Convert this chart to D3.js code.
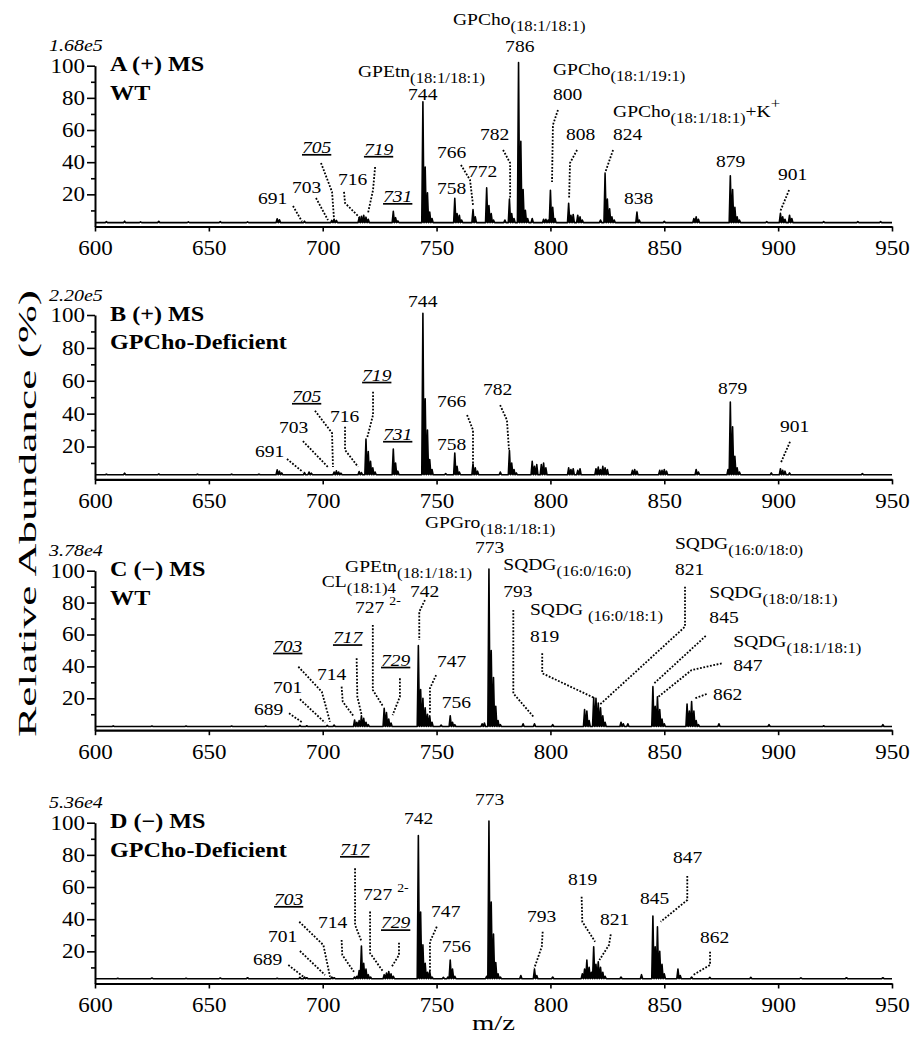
<!DOCTYPE html>
<html><head><meta charset="utf-8">
<script src="https://cdn.jsdelivr.net/npm/d3@7"></script>
<style>
body{margin:0;background:#fff}
svg text{font-family:"Liberation Serif","Times New Roman",serif;fill:#000}
</style></head><body>
<svg id="c" width="921" height="1050"></svg>
<script>
// ---------- data ----------
const mzTicks = [600, 650, 700, 750, 800, 850, 900, 950];
const pctMajor = [20, 40, 60, 80, 100];
const pctMinor = [10, 30, 50, 70, 90];
const panelTitle1 = ["A (+) MS", "B (+) MS", "C (\u2212) MS", "D (\u2212) MS"];
const panelTitle2 = ["WT", "GPCho-Deficient", "WT", "GPCho-Deficient"];
const scaleLabels = ["1.68e5", "2.20e5", "3.78e4", "5.36e4"];
const baselines = [2.4, 2.8, 2.3, 3.0];

const peaksA = [[605,3.0],[613,3.3],[620,2.9],[628,3.2],[641,2.9],[655,3.0],[667,2.9],[680,4.8],[681,4.2],[692,3.3],[704,3.8],[705,4.2],[706,3.8],[716,5.5],[717,6.3],[718,7.0],[719,5.8],[720,4.5],[731,9.5],[732,5.5],[733,3.5],[744,77.5],[745,37],[746,21],[747,9],[748,5],[758,17.5],[759,8],[760,7],[761,4],[766,10.5],[767,6],[772,24],[773,13],[774,8],[775,4],[780,4],[782,17],[783,8],[784,5],[786,102],[787,53],[788,23],[789,10],[790,5],[792,5],[797,4.5],[798,4.5],[799,4],[800,22.5],[801,12],[802,5],[808,14.5],[809,7],[810,7.5],[812,7],[813,6],[814,4],[822,4],[824,33],[825,17],[826,11],[827,6],[828,4],[838,9],[839,4],[850,3.2],[863,5],[864,6],[865,4.5],[879,31.5],[880,23],[881,12],[882,6],[883,4],[895,3],[901,8.2],[902,6],[903,4.5],[905,7],[906,5],[920,3],[935,3],[945,3]];
const peaksB = [[605,3.2],[613,3.8],[628,3.3],[645,3.2],[660,3.2],[672,3.2],[680,5.8],[681,5],[682,4],[692,4.2],[694,4.5],[695,3.8],[705,4.5],[706,5.2],[707,4.5],[708,3.8],[716,4.8],[717,4.2],[719,24.5],[720,17],[721,11],[722,7],[723,4.5],[731,18.5],[732,10],[733,5],[744,101],[745,49],[746,30],[747,12],[748,6],[754,3.5],[758,16],[759,8],[760,4.5],[766,9.5],[767,7],[768,5],[778,4.5],[782,17.5],[783,10],[784,6],[785,4],[792,11],[793,8],[794,9],[796,9],[797,10],[798,7],[808,7],[809,6],[810,6.5],[812,5.5],[813,6.5],[820,6.5],[821,7.5],[822,6],[823,8],[824,7],[825,6],[836,5.5],[837,6],[838,5],[848,5.5],[849,5.5],[850,6],[851,5],[864,6],[865,4.5],[878,6],[879,47],[880,32],[881,14],[882,7],[883,4.5],[897,4],[901,6.5],[902,5.5],[903,5],[905,4],[937,3.6]];
const peaksC = [[608,2.7],[625,2.6],[640,2.6],[660,2.6],[675,2.7],[690,3.0],[693,2.8],[702,3.0],[705,3.2],[714,6.4],[715,5],[716,6],[717,9],[718,7.5],[719,5],[720,3.5],[727,13.7],[728,11],[729,7],[730,4.5],[742,53],[743,25.5],[744,20],[745,14],[746,10],[747,9],[748,5],[752,3.2],[756,9],[757,5],[758,3.5],[770,4],[771,4.5],[773,101],[774,50],[775,33],[776,15],[777,6],[778,3.5],[788,4],[793,4],[801,3.5],[815,13],[816,12],[817,6],[819,20.5],[820,20],[821,17],[822,14],[823,9],[824,5],[831,5],[832,4],[834,4],[845,27.3],[846,15],[847,21],[848,13],[849,7],[850,4],[860,16.4],[861,12],[862,18],[863,12],[864,6],[865,3.5],[874,4],[896,3.5],[920,2.8],[946,3.5]];
const peaksD = [[610,3.3],[625,3.4],[640,3.3],[655,3.4],[667,3.6],[680,3.3],[690,3.8],[692,4],[693,3.6],[704,4],[705,3.6],[714,4],[715,4.5],[716,8],[717,23.3],[718,12.5],[719,9],[720,5.5],[721,4],[727,5.5],[728,6.5],[729,7.5],[730,6],[731,4.5],[742,92],[743,44.5],[744,24],[745,12.5],[746,7],[747,7.5],[748,4],[753,3.8],[755,4],[756,14.6],[757,9],[758,4.5],[772,4.5],[773,101],[774,50.7],[775,30.7],[776,13],[777,6],[778,4],[787,5],[793,9],[794,5],[801,4],[814,6],[815,9],[816,14.6],[817,10],[818,7],[819,22.8],[820,12],[821,13.5],[822,10],[823,7],[824,4.5],[831,4],[840,5.5],[845,42],[846,22.8],[847,35.2],[848,20],[849,12],[850,6],[856,9],[857,5],[862,4],[870,3.8],[888,3.8],[910,3.5],[930,3.6],[946,3.6]];

// annotations: text parts, anchor (m/z, %), leader path (m/z, %)
const labelsA = [
 {t:"691", at:[671.6,14.0], lead:[[686.95,12.75],[690.9,3.1]]},
 {t:"703", at:[686.5,20.8], lead:[[697.05,17.7],[702.3,4.0]]},
 {t:"705", u:1, at:[690.9,45.7], lead:[[699.25,39.5],[704.1,21.5],[705.0,4.0]]},
 {t:"716", at:[706.7,25.8], lead:[[709.35,21.5],[709.8,14.6],[716.4,5.3]]},
 {t:"719", u:1, at:[718.1,44.5], lead:[[723.0,37.0],[722.1,22.7],[719.9,8.4]]},
 {t:"731", u:1, at:[726.5,15.2]},
 {t:[["GPEtn"],["(18:1/18:1)","sub"]], at:[715.5,93.0]},
 {t:"744", at:[737.5,78.7]},
 {t:[["GPCho"],["(18:1/18:1)","sub"]], at:[757.2,125.4]},
 {t:"786", at:[780.1,108.6]},
 {t:[["GPCho"],["(18:1/19:1)","sub"]], at:[801.1,94.2]},
 {t:"800", at:[801.1,78.7], lead:[[803.3,72.5],[801.1,63.1],[800.7,27.7]]},
 {t:[["GPCho"],["(18:1/18:1)","sub"],["+K"],["+","sup"]], at:[827.5,68.1]},
 {t:"824", at:[827.5,53.8], lead:[[827.5,47.6],[824.0,33.3]]},
 {t:"782", at:[769.1,53.8], lead:[[779.2,47.6],[782.3,39.5],[782.3,17.7]]},
 {t:"808", at:[806.8,53.8], lead:[[811.7,47.6],[808.6,39.5],[808.2,17.7]]},
 {t:"766", at:[750.2,42.6], lead:[[760.7,38.3],[764.7,28.9],[766.0,13.4]]},
 {t:"772", at:[763.8,30.8]},
 {t:"758", at:[750.2,20.2]},
 {t:"838", at:[832.3,14.0]},
 {t:"879", at:[872.7,37.0]},
 {t:"901", at:[899.9,28.9], lead:[[904.8,22.7],[900.8,9.0]]}
];
const labelsB = [
 {t:"691", at:[670.3,13.8], lead:[[684.3,12.4],[691.3,4.5]]},
 {t:"703", at:[680.8,28.2], lead:[[691.3,23.3],[702.3,7.5]]},
 {t:"705", u:1, at:[686.5,47.1], lead:[[696.6,41.8],[704.1,28.2],[704.5,7.5]]},
 {t:"716", at:[703.2,34.9], lead:[[709.8,32.0],[709.8,17.9],[715.5,7.7]]},
 {t:"719", u:1, at:[717.3,60.0], lead:[[722.1,53.3],[722.1,39.2],[719.5,25.2]]},
 {t:"731", u:1, at:[726.5,24.0]},
 {t:"744", at:[737.5,105.0]},
 {t:"766", at:[750.2,44.2], lead:[[763.4,39.2],[766.0,30.0],[766.0,10.0]]},
 {t:"758", at:[750.2,17.9]},
 {t:"782", at:[770.4,51.3], lead:[[777.9,45.2],[780.9,36.1],[781.8,17.9]]},
 {t:"879", at:[873.6,51.9]},
 {t:"901", at:[900.8,29.0], lead:[[905.2,22.9],[901.1,9.8]]}
];
const labelsC = [
 {t:[["GPGro"],["(18:1/18:1)","sub"]], at:[744.9,126.8]},
 {t:"773", at:[766.9,111.1]},
 {t:[["GPEtn"],["(18:1/18:1)","sub"]], at:[709.8,99.4]},
 {t:"742", at:[738.3,83.7], lead:[[744.9,81.6],[742.4,74.3],[742.4,56.6]]},
 {t:[["CL"],["(18:1)4","sub"]], at:[699.6,90.0]},
 {t:[["727 "],["2-","sup2"]], at:[714.2,73.3], lead:[[722.0,66.0],[722.0,25.2],[726.6,14.7]]},
 {t:"703", u:1, at:[678.2,49.2], lead:[[689.3,39.8],[699.6,24.1],[703.2,5.3]]},
 {t:"701", at:[678.2,23.1], lead:[[690.0,19.4],[701.0,4.7]]},
 {t:"689", at:[669.8,9.5], lead:[[685.2,10.6],[691.2,4.7]]},
 {t:"714", at:[697.5,31.5], lead:[[708.3,27.3],[708.8,17.9],[713.7,8.5]]},
 {t:"717", u:1, at:[704.5,54.5], lead:[[714.9,45.1],[715.2,21.0],[717.1,9.5]]},
 {t:"729", u:1, at:[725.6,40.4], lead:[[733.9,32.5],[733.9,21.0],[730.7,9.5]]},
 {t:"747", at:[750.2,39.8], lead:[[749.8,34.6],[747.1,26.3],[747.1,10.6]]},
 {t:"756", at:[752.3,13.7]},
 {t:[["SQDG"],["(16:0/16:0)","sub"]], at:[779.3,100.4]},
 {t:"793", at:[779.3,83.7], lead:[[783.7,75.4],[783.7,23.1],[792.5,8.5]]},
 {t:[["SQDG "],["(16:0/18:1)","sub"]], at:[791.0,72.2]},
 {t:"819", at:[791.0,55.5], lead:[[796.4,48.2],[796.4,35.7],[819.6,20.0]]},
 {t:[["SQDG"],["(16:0/18:0)","sub"]], at:[854.7,113.4]},
 {t:"821", at:[854.7,97.3], lead:[[859.1,90.0],[859.1,64.9],[821.5,15.8]]},
 {t:[["SQDG"],["(18:0/18:1)","sub"]], at:[869.8,82.7]},
 {t:"845", at:[869.8,67.0], lead:[[868.2,59.1],[845.6,29.4]]},
 {t:[["SQDG"],["(18:1/18:1)","sub"]], at:[880.3,52.4]},
 {t:"847", at:[880.3,37.3], lead:[[875.2,41.9],[862.0,37.7],[847.4,21.0]]},
 {t:"862", at:[871.4,18.9], lead:[[868.6,22.7],[863.5,20.0]]}
];
const labelsD = [
 {t:"742", at:[735.7,99.2]},
 {t:"717", u:1, at:[707.6,79.9], lead:[[714.2,71.6],[714.2,36.4],[717.1,26.0]]},
 {t:[["727 "],["2-","sup2"]], at:[717.7,51.9], lead:[[720.8,44.7],[720.8,18.8],[726.6,7.3]]},
 {t:"729", u:1, at:[725.6,34.3], lead:[[733.5,25.4],[733.5,17.7],[730.3,10.4]]},
 {t:"747", at:[747.6,41.5], lead:[[750.1,35.3],[747.1,26.0],[747.1,7.3]]},
 {t:"756", at:[752.3,19.8]},
 {t:"703", u:1, at:[678.6,48.8], lead:[[689.7,38.4],[700.3,23.9],[703.2,4.2]]},
 {t:"714", at:[697.9,34.3], lead:[[708.3,27.1],[708.6,17.7],[713.7,7.3]]},
 {t:"701", at:[676.0,26.0], lead:[[690.0,20.2],[701.0,5.3]]},
 {t:"689", at:[669.4,11.5], lead:[[684.9,11.5],[691.5,4.2]]},
 {t:"773", at:[766.9,111.0]},
 {t:"793", at:[789.7,38.4], lead:[[796.6,32.2],[796.2,22.9],[792.9,9.5]]},
 {t:"819", at:[807.7,61.3], lead:[[813.7,54.0],[814.0,38.4],[819.6,26.0]]},
 {t:"821", at:[821.8,36.4], lead:[[826.5,30.6],[825.7,23.9],[821.5,14.6]]},
 {t:"845", at:[839.3,49.4]},
 {t:"847", at:[853.8,74.8], lead:[[860.1,66.9],[860.1,51.9],[848.4,38.4]]},
 {t:"862", at:[865.7,25.0], lead:[[870.1,19.8],[870.1,11.5],[862.7,5.3]]}
];

// ---------- layout ----------
const X0 = 95, X1 = 892;
const panelY = [[226.5, 65.7], [479.4, 315], [730.2, 570.7], [983.5, 822.7]];
const SX = 1.15;      // horizontal glyph stretch of the reference typeface
const HW = 0.5;       // half width of a drawn peak (m/z units)
const FONT = '"Liberation Serif","Times New Roman",serif';

const svg = d3.select("#c");
const x = d3.scaleLinear().domain([600, 950]).range([X0, X1]);

const partStyle = {
  "":    {fs:17,   shift:0},
  sub:   {fs:14.5, shift:6},
  sup:   {fs:14.5, shift:-9},
  sup2:  {fs:12,   shift:-8}
};

function drawPanel(i, peaks, labels) {
  const y = d3.scaleLinear().domain([0, 100]).range(panelY[i]);
  const g = svg.append("g");
  const base = baselines[i];

  // spectrum
  const sorted = peaks.slice().sort((a, b) => a[0] - b[0]);
  const pts = [[600, base]];
  sorted.forEach(p => { pts.push([p[0] - HW, base], [p[0], p[1]], [p[0] + HW, base]); });
  pts.push([950, base]);
  g.append("path").datum(pts)
    .attr("d", d3.line().x(d => x(d[0])).y(d => y(d[1])))
    .attr("fill", "#000").attr("stroke", "#000")
    .attr("stroke-width", 1.6).attr("stroke-linejoin", "round");

  // x axis
  const xa = g.append("g").attr("transform", `translate(0,${y(0)})`)
    .call(d3.axisBottom(x).tickValues(mzTicks).tickSize(5).tickSizeOuter(0).tickFormat(d3.format("d")));
  xa.attr("font-family", FONT).attr("font-size", 20);
  xa.select(".domain").attr("stroke-width", 2.2);
  xa.selectAll(".tick line").attr("stroke-width", 1.6);
  xa.selectAll(".tick text").attr("y", 28.5).attr("dy", 0).attr("transform", `scale(${SX},1)`);

  // y axis
  const ya = g.append("g").attr("transform", `translate(${X0},0)`)
    .call(d3.axisLeft(y).tickValues(pctMajor).tickSize(8).tickPadding(1).tickSizeOuter(0));
  ya.attr("font-family", FONT).attr("font-size", 20);
  ya.select(".domain").attr("stroke-width", 2);
  ya.selectAll(".tick line").attr("stroke-width", 1.6);
  ya.selectAll(".tick text").attr("x", -10 / SX).attr("transform", `scale(${SX},1)`);
  const ym = g.append("g").attr("transform", `translate(${X0},0)`)
    .call(d3.axisLeft(y).tickValues(pctMinor).tickSize(4).tickFormat(""));
  ym.select(".domain").remove();
  ym.selectAll(".tick line").attr("stroke-width", 1.6);

  // scale label & title
  g.append("text").attr("transform", `translate(${X0 - 46},${y(100) - 14.5}) scale(1.25,1)`)
    .attr("font-size", 16).attr("font-style", "italic").text(scaleLabels[i]);
  g.append("text").attr("transform", `translate(${X0 + 15},${y(100) + 5.5}) scale(${SX},1)`)
    .attr("font-size", 21).attr("font-weight", "bold").text(panelTitle1[i]);
  g.append("text").attr("transform", `translate(${X0 + 15},${y(100) + 34}) scale(${SX},1)`)
    .attr("font-size", 21).attr("font-weight", "bold").text(panelTitle2[i]);

  // annotations
  const lead = d3.line().x(d => x(d[0])).y(d => y(d[1]));
  labels.forEach(L => {
    if (L.lead) {
      g.append("path").datum(L.lead)
        .attr("d", lead).attr("fill", "none").attr("stroke", "#000")
        .attr("stroke-width", 1.8).attr("stroke-dasharray", "1.8,1.6");
    }
    const parts = typeof L.t === "string" ? [[L.t]] : L.t;
    const t = g.append("text")
      .attr("transform", `translate(${x(L.at[0])},${y(L.at[1])}) scale(${SX},1)`)
      .attr("font-size", 17);
    if (L.u) t.attr("font-style", "italic").attr("text-decoration", "underline");
    let cur = 0;
    parts.forEach(([s, k]) => {
      const st = partStyle[k || ""];
      t.append("tspan").text(s).attr("font-size", st.fs).attr("dy", st.shift - cur);
      cur = st.shift;
    });
  });
}

drawPanel(0, peaksA, labelsA);
drawPanel(1, peaksB, labelsB);
drawPanel(2, peaksC, labelsC);
drawPanel(3, peaksD, labelsD);

// axis titles
svg.append("text").attr("transform", "translate(36,513.5) rotate(-90)")
  .attr("text-anchor", "middle").attr("font-size", 26)
  .attr("textLength", 447).attr("lengthAdjust", "spacingAndGlyphs")
  .text("Relative Abundance (%)");
svg.append("text").attr("transform", "translate(493.5,1030) scale(1.37,1)")
  .attr("text-anchor", "middle").attr("font-size", 21).text("m/z");
</script>
</body></html>
